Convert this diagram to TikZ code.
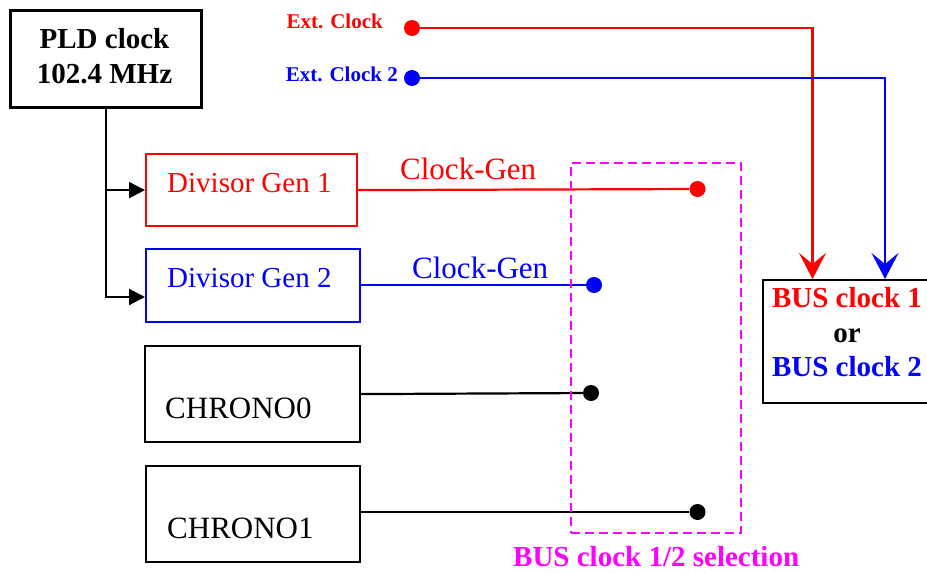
\documentclass[tikz,border=0pt]{standalone}
\usepackage{fontspec}
\setmainfont{Liberation Serif}
\usetikzlibrary{arrows.meta}
\definecolor{sigred}{RGB}{255,0,0}
\definecolor{sigblue}{RGB}{0,0,255}
\definecolor{selmag}{RGB}{255,0,255}

\begin{document}
\begin{tikzpicture}[x=1pt,y=-1pt,
  box/.style={draw, rectangle, line width=2.2pt, inner sep=0pt, anchor=north west},
  dot/.style={circle, fill, inner sep=0pt, minimum size=16pt},
  wire/.style={line width=2.2pt},
  feed/.style={wire, -{Triangle[length=16pt,width=16pt]}},
  busarrow/.style={wire, -{Stealth[length=26pt,width=27pt,inset=11pt]}},
  lbl/.style={inner sep=0pt, anchor=base west},
  bigbold/.style={font=\fontsize{29}{34}\selectfont\bfseries},
  bigreg/.style={font=\fontsize{29}{34}\selectfont},
  chronofont/.style={font=\fontsize{31}{36}\selectfont},
  genfont/.style={font=\fontsize{31}{36}\selectfont},
  extfont/.style={font=\fontsize{21}{25}\selectfont\bfseries}]

\clip (0,0) rectangle (927,573);

% PLD source clock
\node[box, line width=2.5pt, minimum width=191pt, minimum height=97pt] (pld) at (9,9) {};
\node[bigbold, inner sep=0pt, anchor=base] (pldname) at (104.5,48) {PLD clock};
\node[bigbold, inner sep=0pt, anchor=base] (pldfreq) at (104.5,83) {102.4 MHz};

% clock generators
\node[box, draw=sigred, minimum width=211pt, minimum height=72pt] (div1) at (145,153) {};
\node[lbl, bigreg, text=sigred] (div1txt) at (167,192) {Divisor Gen 1};
\node[box, draw=sigblue, minimum width=214pt, minimum height=73pt] (div2) at (145,248) {};
\node[lbl, bigreg, text=sigblue] (div2txt) at (167,287) {Divisor Gen 2};

% chronometers
\node[box, minimum width=215pt, minimum height=96pt] (chr0) at (144,345) {};
\node[lbl, chronofont] (chr0txt) at (165,418) {CHRONO0};
\node[box, minimum width=214pt, minimum height=96pt] (chr1) at (145,465) {};
\node[lbl, chronofont] (chr1txt) at (167,538) {CHRONO1};

% feeds from the PLD clock to the divisors
\coordinate (d2in) at (145,297);
\draw[feed] (pld.south |- div1.west) -- (div1.west);
\draw[feed] (pld.south) |- (d2in);

% selector contacts
\node[dot, sigred] (s1) at (697.5,189) {};
\node[dot, sigblue] (s2) at (594,285) {};
\node[dot, black] (s3) at (591,393) {};
\node[dot, black] (s4) at (697.5,512) {};

\draw[wire, sigred] (div1.east) -- (s1);
\draw[wire, sigblue] (div2.east |- s2) -- (s2);
\draw[wire] (chr0.east) -- (s3);
\draw[wire] (chr1.east |- s4) -- (s4);

\node[lbl, genfont, text=sigred] (gen1) at (400,179) {Clock-Gen};
\node[lbl, genfont, text=sigblue] (gen2) at (412,278) {Clock-Gen};

% selection area
\node[box, draw=selmag, dash pattern=on 9pt off 5pt, minimum width=170pt, minimum height=370pt] (sel) at (570,162) {};
\node[lbl, bigbold, text=selmag] (seltxt) at (513,566) {BUS clock 1/2 selection};

% external clocks
\node[dot, sigred] (e1) at (412,28) {};
\node[dot, sigblue] (e2) at (412,78) {};
\node[extfont, text=sigred, inner sep=0pt, anchor=base east] (e1txt) at (383,28) {Ext. Clock};
\node[extfont, text=sigblue, inner sep=0pt, anchor=base east] (e2txt) at (398,81) {Ext. Clock 2};

% bus clock output
\node[box, minimum width=200pt, minimum height=123pt] (bus) at (762,279) {};
\node[bigbold, text=sigred, inner sep=0pt, anchor=base] (bus1) at (847,307) {BUS clock 1};
\node[bigbold, inner sep=0pt, anchor=base] (busor) at (847,342) {or};
\node[bigbold, text=sigblue, inner sep=0pt, anchor=base] (bus2) at (847,376) {BUS clock 2};

\coordinate (bin1) at (812.5,279);
\coordinate (bin2) at (885,279);
\draw[busarrow, sigred] (e1) -| (bin1);
\draw[busarrow, sigblue] (e2) -| (bin2);

\end{tikzpicture}
\end{document}
